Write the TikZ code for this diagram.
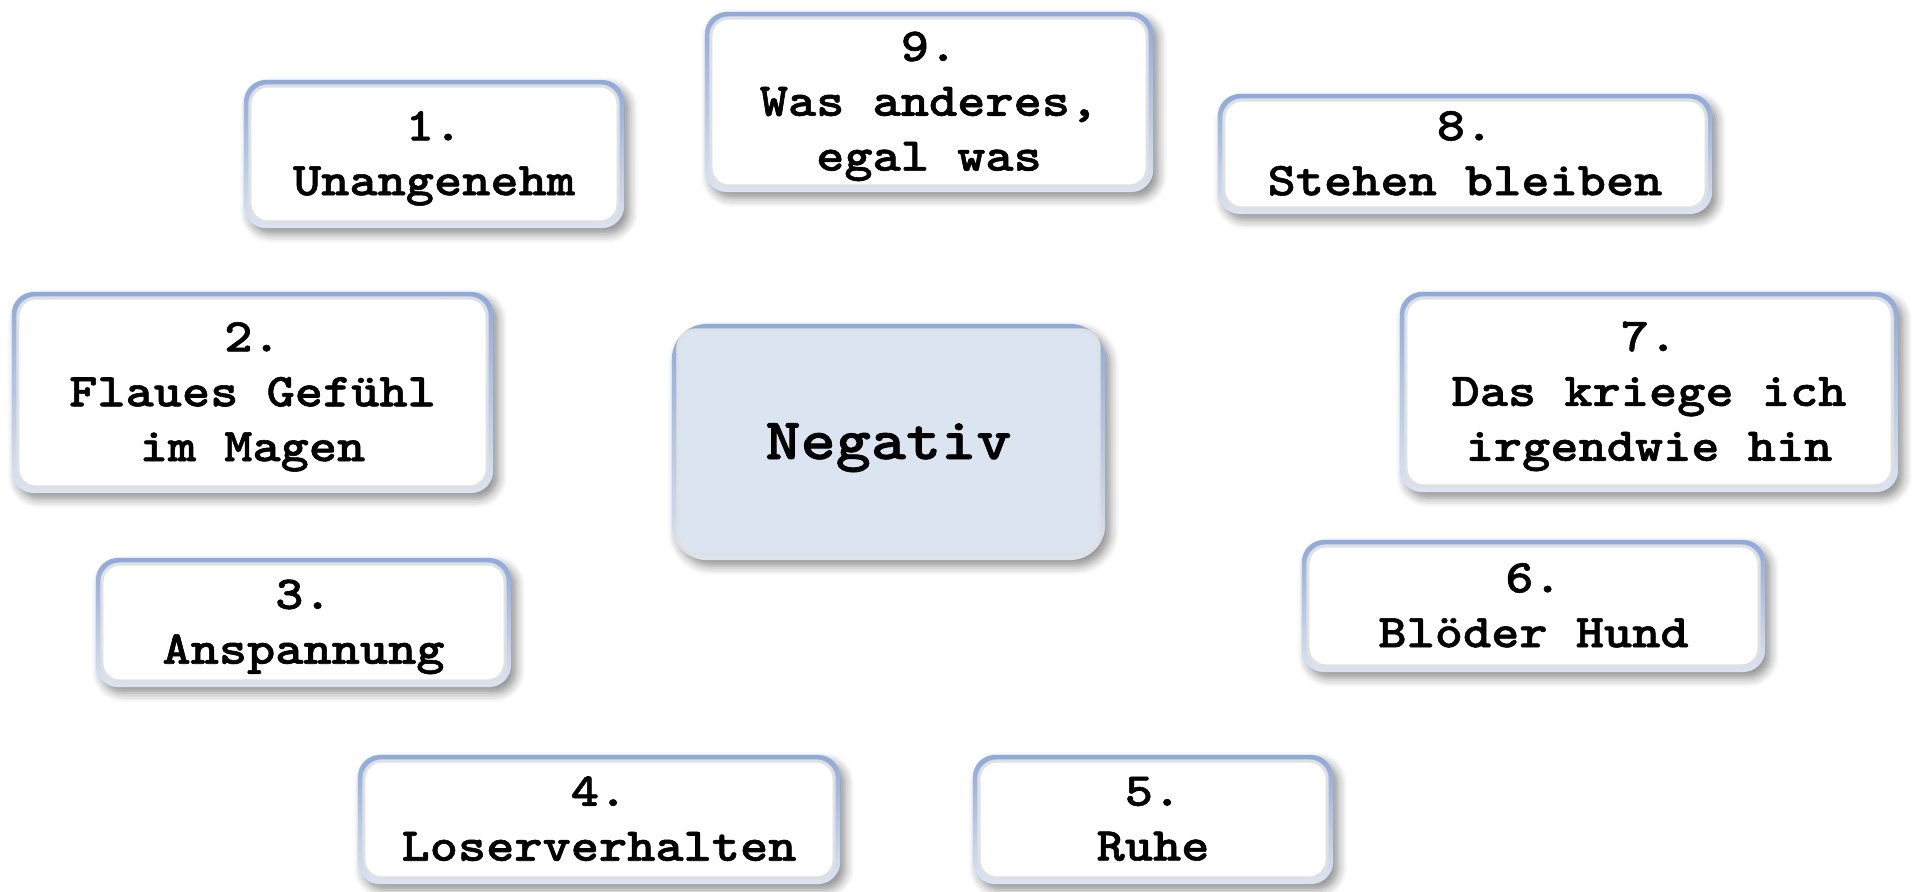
\documentclass[tikz,border=0pt]{standalone}
\usepackage{fontspec}
\newfontfamily\cardfont{lmmonolt10-bold.otf}[FakeStretch=1.14, FakeBold=1.2]
\usepackage{xcolor}
\usepackage{tikz}
\usetikzlibrary{shapes}
\usetikzlibrary{shadows.blur}

\definecolor{rimtop}{RGB}{140,170,220}
\definecolor{rimbot}{RGB}{218,228,243}
\definecolor{negfill}{RGB}{219,229,241}

\tikzset{
    card/.style={rectangle, rounded corners=0.22cm, top color=rimtop, bottom color=rimbot,
        blur shadow={shadow xshift=0.5mm, shadow yshift=-0.6mm, shadow blur radius=0.9mm,
            shadow blur steps=6, shadow opacity=45},
        align=center, font=\cardfont\fontsize{13.4}{15.6}\selectfont, text depth=0.5pt,
        path picture={\filldraw[fill=#1, draw=black!12, line width=0.9pt, rounded corners=0.18cm]
            ([shift={(0.06cm,0.06cm)}]path picture bounding box.south west) rectangle
            ([shift={(-0.06cm,-0.06cm)}]path picture bounding box.north east);}},
    card/.default=white,
}

\begin{document}
\begin{tikzpicture}[x=0.01cm, y=-0.01cm]
        \useasboundingbox (0, 0) rectangle (1913, 891);

        \node[card=negfill, rounded corners=0.35cm, minimum width=4.33cm, minimum height=2.36cm,
            font=\cardfont\fontsize{16.7}{19}\selectfont] (neg) at (888.5, 442) {Negativ};

        \node[card, minimum width=3.80cm, minimum height=1.48cm] (n1) at (434, 154) {1.\\Unangenehm};
        \node[card, minimum width=4.81cm, minimum height=2.01cm] (n2) at (252.5, 392.5) {2.\\Flaues Gefühl\\im Magen};
        \node[card, minimum width=4.15cm, minimum height=1.29cm] (n3) at (303.5, 622.5) {3.\\Anspannung};
        \node[card, minimum width=4.82cm, minimum height=1.29cm] (n4) at (599, 819.5) {4.\\Loserverhalten};
        \node[card, minimum width=3.60cm, minimum height=1.29cm] (n5) at (1153, 819.5) {5.\\Ruhe};
        \node[card, minimum width=4.63cm, minimum height=1.32cm] (n6) at (1533.5, 606) {6.\\Blöder Hund};
        \node[card, minimum width=4.98cm, minimum height=2.00cm] (n7) at (1649, 392) {7.\\Das kriege ich\\irgendwie hin};
        \node[card, minimum width=4.94cm, minimum height=1.20cm] (n8) at (1465, 154) {8.\\Stehen bleiben};
        \node[card, minimum width=4.48cm, minimum height=1.80cm] (n9) at (929, 102) {9.\\Was anderes,\\egal was};
\end{tikzpicture}
\end{document}
